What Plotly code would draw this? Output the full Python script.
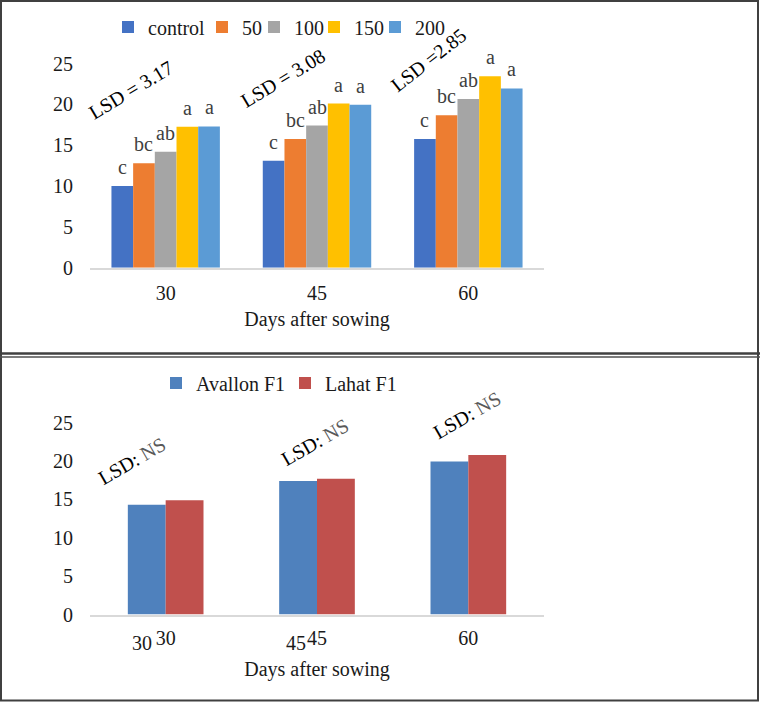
import plotly.graph_objects as go

# ---------------- data ----------------
days = ["30", "45", "60"]

# top chart: treatments
treat_names = ["control", "50", "100", "150", "200"]
control = [10.0, 13.1, 15.75]
t50 = [12.8, 15.75, 18.65]
t100 = [14.2, 17.4, 20.65]
t150 = [17.25, 20.1, 23.45]
t200 = [17.3, 19.95, 21.95]
letters_control = ["c", "c", "c"]
letters_50 = ["bc", "bc", "bc"]
letters_100 = ["ab", "ab", "ab"]
letters_150 = ["a", "a", "a"]
letters_200 = ["a", "a", "a"]
lsd_top = ["LSD = 3.17", "LSD = 3.08", "LSD =2.85"]

# bottom chart: cultivars
cult_names = ["Avallon F1", "Lahat F1"]
avallon = [14.3, 17.4, 19.95]
lahat = [14.9, 17.7, 20.8]
lsd_bottom = ["LSD: NS", "LSD: NS", "LSD: NS"]

yticks = [0, 5, 10, 15, 20, 25]

# ---------------- style ----------------
W, H = 760, 702
FONT = "Liberation Serif"
treat_colors = ["#4472C4", "#ED7D31", "#A5A5A5", "#FFC000", "#5B9BD5"]
cult_colors = ["#4F81BD", "#C0504D"]
treat_legend_w = [49, 7, 15, 16, 32]     # legend entry widths (px)
cult_legend_w = [84, 70]


def px_x(p):
    return p / W


def px_y(p):
    return (H - p) / H


fig = go.Figure()

top_series = [control, t50, t100, t150, t200]
top_letters = [letters_control, letters_50, letters_100, letters_150, letters_200]
wt = 0.1433
for i, (name, vals, lets, col) in enumerate(zip(treat_names, top_series, top_letters, treat_colors)):
    off = -2.5 * wt + i * wt
    fig.add_trace(go.Bar(
        x=days, y=vals, name=name,
        marker=dict(color=col, line=dict(width=0)),
        width=wt, offset=off, legendwidth=treat_legend_w[i],
        xaxis="x", yaxis="y", legend="legend",
    ))
    # significance letters above each bar
    for j, (v, t) in enumerate(zip(vals, lets)):
        fig.add_annotation(x=j + off + wt / 2, y=v, xref="x", yref="y", text=t,
                           showarrow=False, xanchor="center", yanchor="bottom", yshift=6,
                           font=dict(family=FONT, size=20, color="#404040"))

wb = 0.25
for i, (name, vals, col) in enumerate(zip(cult_names, [avallon, lahat], cult_colors)):
    fig.add_trace(go.Bar(
        x=days, y=vals, name=name,
        marker=dict(color=col, line=dict(width=0)),
        width=wb, offset=-wb + i * wb, legendwidth=cult_legend_w[i],
        xaxis="x2", yaxis="y2", legend="legend2",
    ))

axis_font = dict(family=FONT, size=20, color="#1a1a1a")
xdom = [px_x(90), px_x(544)]

xcommon = dict(
    type="category", domain=xdom, showline=True, linecolor="#d9d9d9", linewidth=2,
    showgrid=False, zeroline=False, ticks="", tickfont=axis_font, automargin=False,
    range=[-0.5, 2.5], fixedrange=True,
)
ycommon = dict(
    range=[0, 25], tickvals=yticks, showline=False, showgrid=False, zeroline=False,
    ticks="", tickfont=axis_font, ticklabelstandoff=16, fixedrange=True, automargin=False,
)

fig.update_layout(
    template="none",
    width=W, height=H, margin=dict(l=0, r=0, t=0, b=0, autoexpand=False),
    paper_bgcolor="white", plot_bgcolor="white",
    barmode="group", showlegend=True,
    font=dict(family=FONT, size=20, color="#1a1a1a"),
    xaxis=dict(**xcommon, anchor="y", ticklabelstandoff=6,
               title=dict(text="Days after sowing", font=axis_font, standoff=9)),
    yaxis=dict(**ycommon, domain=[px_y(267.7), px_y(63.5)], anchor="x"),
    xaxis2=dict(**xcommon, anchor="y2", ticklabelstandoff=4,
                title=dict(text="Days after sowing", font=axis_font, standoff=14)),
    yaxis2=dict(**ycommon, domain=[px_y(614.5), px_y(422.75)], anchor="x2"),
    legend=dict(orientation="h", x=px_x(122 - 14), xanchor="left", y=px_y(27), yanchor="middle",
                font=dict(family=FONT, size=20, color="#1a1a1a"), itemwidth=30,
                bgcolor="rgba(0,0,0,0)", borderwidth=0),
    legend2=dict(orientation="h", x=px_x(170 - 14), xanchor="left", y=px_y(383), yanchor="middle",
                 font=dict(family=FONT, size=20, color="#1a1a1a"), itemwidth=30,
                 bgcolor="rgba(0,0,0,0)", borderwidth=0),
)

# LSD annotations: (x shift from category centre px, label centre y px, angle)
lsd_top_pos = [(-35, 90, -31), (-34, 78, -31), (-40, 60, -38)]
for j, (txt, (xs, cy, ang)) in enumerate(zip(lsd_top, lsd_top_pos)):
    fig.add_annotation(x=j, y=px_y(cy), xref="x", yref="paper", xshift=xs, text=txt,
                       showarrow=False, textangle=ang, xanchor="center", yanchor="middle",
                       font=dict(family=FONT, size=20, color="black"))

lsd_bot_pos = [(-34, 461), (-2, 442), (-1, 415)]
for j, (txt, (xs, cy)) in enumerate(zip(lsd_bottom, lsd_bot_pos)):
    a, b = txt.split(": ")
    fig.add_annotation(x=j, y=px_y(cy), xref="x2", yref="paper", xshift=xs,
                       text=f"{a}: <span style='color:#595959'>{b}</span>", showarrow=False,
                       textangle=-30, xanchor="center", yanchor="middle",
                       font=dict(family=FONT, size=20, color="black"))

# duplicated category labels seen in the lower chart
dup_labels = [(0, "30", -24), (1, "45", -21)]
for j, d, xs in dup_labels:
    fig.add_annotation(x=j, y=0, xref="x2", yref="y2", xshift=xs, yshift=-28, text=d,
                       showarrow=False, xanchor="center", yanchor="middle", font=axis_font)

# panel frames
frame = dict(color="#404040", width=2)
fig.add_shape(type="rect", xref="paper", yref="paper", x0=px_x(1), x1=px_x(758),
              y0=px_y(700.5), y1=px_y(1), line=frame)
fig.add_shape(type="line", xref="paper", yref="paper", x0=0, x1=1,
              y0=px_y(353.5), y1=px_y(353.5), line=dict(color="#404040", width=2.5))
fig.add_shape(type="line", xref="paper", yref="paper", x0=0, x1=1,
              y0=px_y(357), y1=px_y(357), line=dict(color="#505050", width=1.5))

fig.write_html("out.html")
